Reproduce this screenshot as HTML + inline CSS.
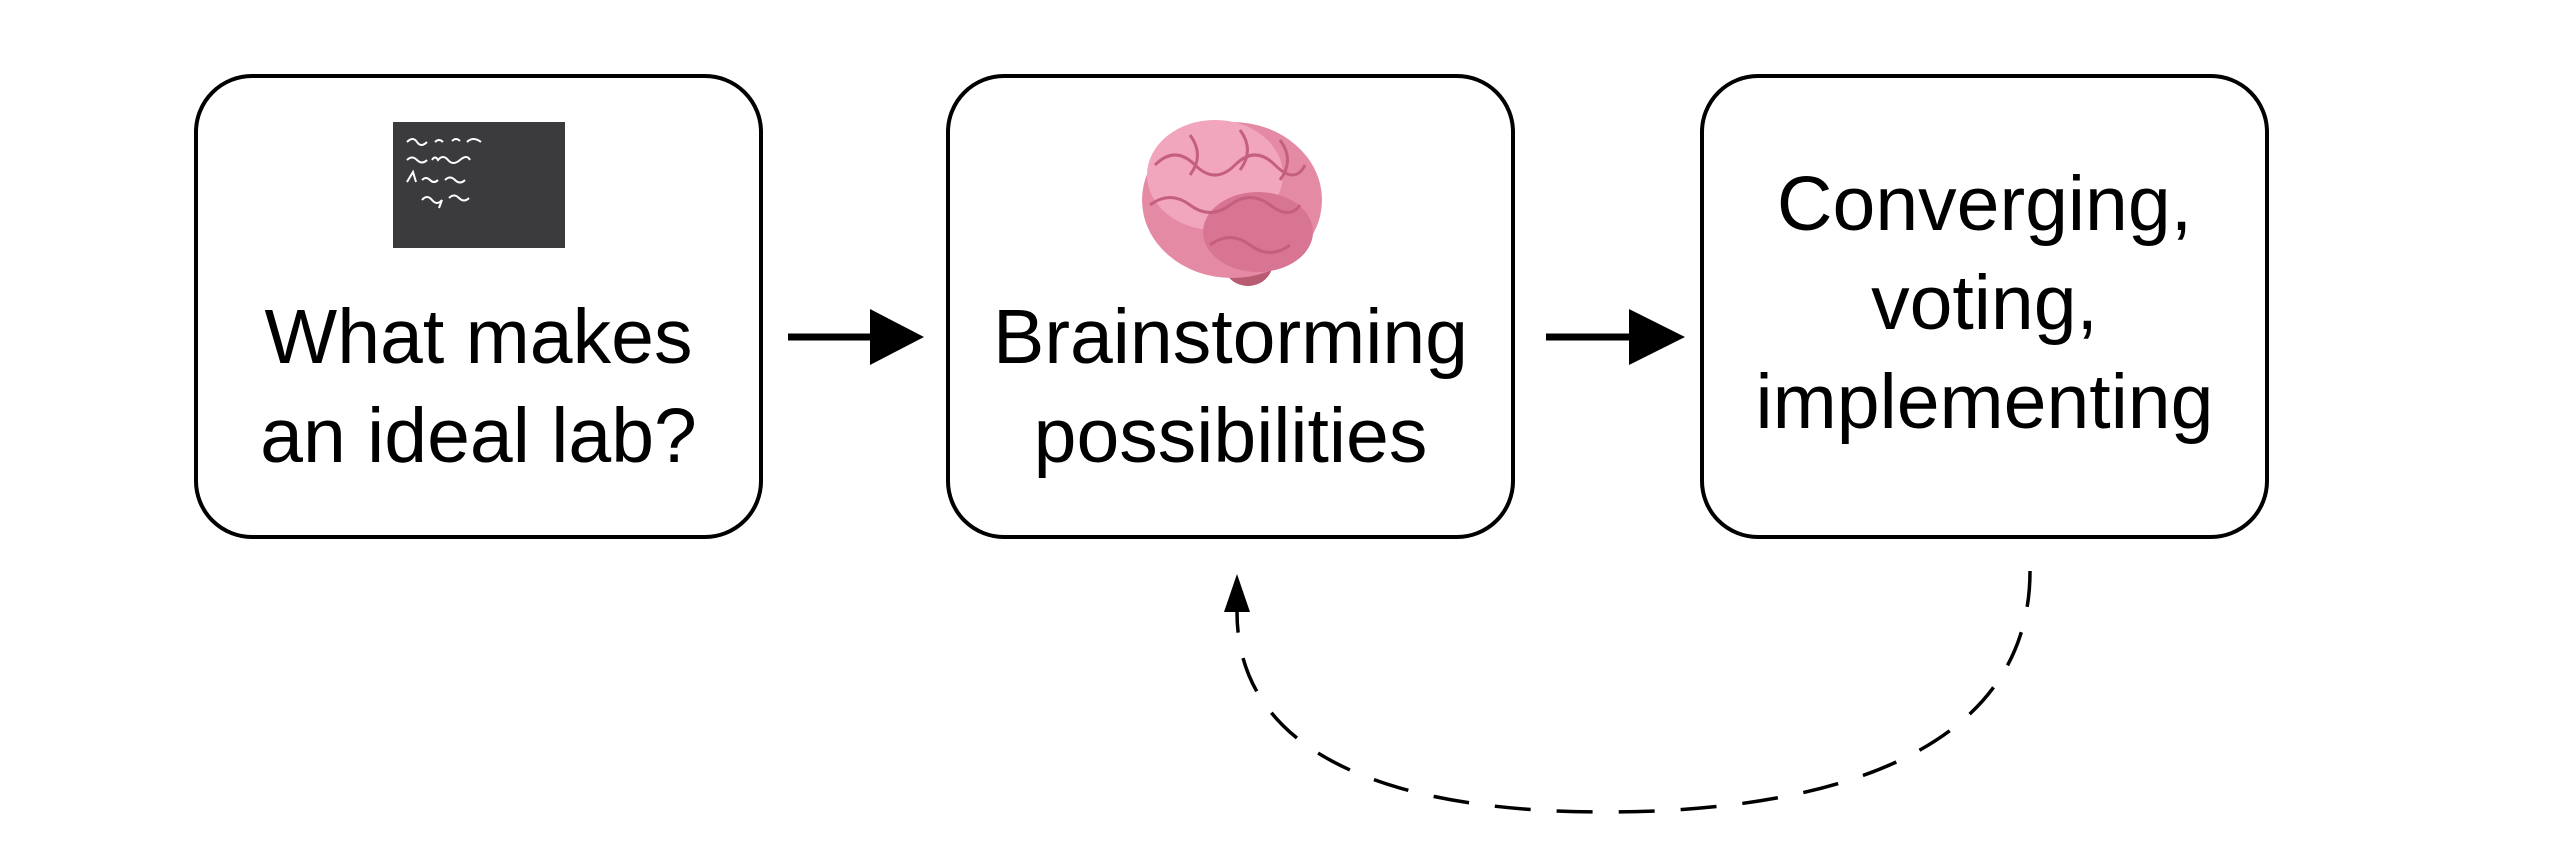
<!DOCTYPE html>
<html><head><style>
html,body{margin:0;padding:0;background:#fff;}
body{width:2550px;height:846px;position:relative;overflow:hidden;font-family:"Gill Sans","Liberation Sans",sans-serif;}
.box{position:absolute;top:74px;width:561px;height:457px;border:4px solid #000;border-radius:58px;box-sizing:content-box;}
.t{position:absolute;width:569px;text-align:center;font-size:77px;line-height:99px;color:#000;}
</style></head><body>
<div class="box" style="left:194px"></div>
<div class="box" style="left:946px"></div>
<div class="box" style="left:1700px"></div>

<div class="t" style="left:194px;top:288px">What makes<br>an ideal lab?</div>
<div class="t" style="left:946px;top:288px">Brainstorming<br>possibilities</div>
<div class="t" style="left:1700px;top:155px">Converging,<br>voting,<br>implementing</div>

<svg width="2550" height="846" style="position:absolute;left:0;top:0">
  <rect x="393" y="122" width="172" height="126" fill="#3b3b3d"/>
  <g stroke="#fff" stroke-width="2" fill="none">
    <path d="M407 142 q6-6 10 0 t10 0 M435 142 q4-4 8 0 M452 141 q4-4 8 0 M467 142 q6-6 14 0"/>
    <path d="M407 160 q5-5 10 0 t10 0 M432 160 q3-5 6 0 q5-6 10 0 t12 0 t10 0"/>
    <path d="M407 182 l6-10 l3 10 M422 180 q4-4 8 0 t8 0 M445 180 q5-5 10 0 t10 0"/>
    <path d="M422 200 q5-6 10 0 t10 0 l-3 8 M449 198 q5-5 10 0 t10 0"/>
  </g>
  <g>
    <ellipse cx="1248" cy="262" rx="25" ry="24" fill="#b85c73"/>
    <ellipse cx="1232" cy="200" rx="90" ry="78" fill="#e58aa5"/>
    <ellipse cx="1215" cy="175" rx="68" ry="55" fill="#f2a6bd"/>
    <ellipse cx="1258" cy="232" rx="55" ry="40" fill="#d87592"/>
    <g stroke="#c4607e" stroke-width="3" fill="none">
      <path d="M1155 165 q20-20 40 0 t40 0 t40 0 t30 0"/>
      <path d="M1150 205 q20-15 40 0 t40 0 t40 0 t30 0"/>
      <path d="M1190 135 q15 20 0 40 M1240 130 q15 20 0 40 M1280 140 q15 20 0 40"/>
      <path d="M1210 245 q20-15 40 0 t40 0"/>
    </g>
  </g>
  <line x1="788" y1="337" x2="875" y2="337" stroke="#000" stroke-width="7"/>
  <polygon points="870,309 924,337 870,365" fill="#000"/>
  <line x1="1546" y1="337" x2="1634" y2="337" stroke="#000" stroke-width="7"/>
  <polygon points="1629,309 1685,337 1629,365" fill="#000"/>
  <path d="M2030,571 C2030,752 1830,812 1605,812 C1385,812 1237,752 1237,612" fill="none" stroke="#000" stroke-width="3.5" stroke-dasharray="36,26"/>
  <polygon points="1237,574 1224,612 1250,612" fill="#000"/>
</svg>
</body></html>
